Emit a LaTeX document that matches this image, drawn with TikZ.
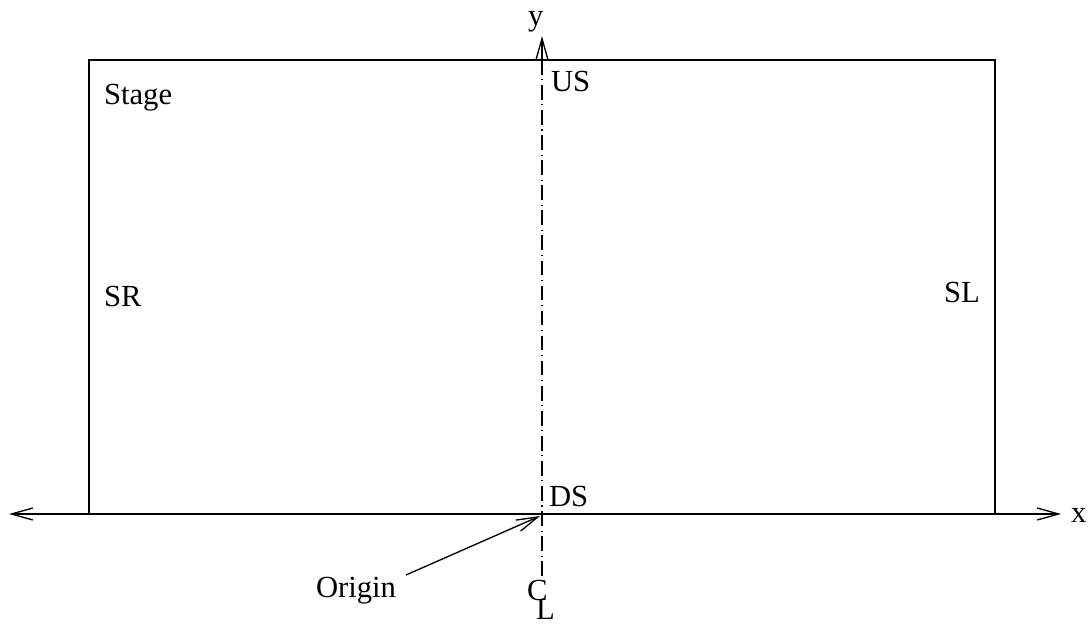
\documentclass[tikz,border=0pt]{standalone}
\usepackage{fontspec}
\setmainfont{Liberation Serif}
\usetikzlibrary{arrows.meta}
\begin{document}
\begin{tikzpicture}[x=0.75pt,y=-0.75pt,
  lbl/.style={inner sep=0pt,outer sep=0pt,anchor=base west,font=\fontsize{23}{26}\selectfont},
  ln/.style={line width=1pt},
  tip/.style={-{Straight Barb[length=16pt,width=9pt,line width=1pt]}},
  dashdot/.style={dash pattern=on 11pt off 3.5pt on 0.8pt off 3.5pt}]
\useasboundingbox (0,0) rectangle (1092,624);
% stage rectangle
\draw[ln] (89,60) rectangle (995,514);
% coordinates
\coordinate (orig) at (542,514);
\coordinate (xl) at (9,514);
\coordinate (xr) at (1061,514);
\coordinate (ytip) at (542,36);
\coordinate (cbot) at (542,576);
% axes
\draw[ln,tip] (orig) -- (xl);
\draw[ln,tip] (orig) -- (xr);
\draw[ln,dashdot] (cbot) -- (542,62);
\draw[ln,tip] (542,62) -- (ytip);
% labels
\node[lbl] (ylab) at (528,26) {y};
\node[lbl] (us) at (551,92) {US};
\node[lbl] (stage) at (104,105) {Stage};
\node[lbl] (sr) at (104,306) {SR};
\node[lbl] (sl) at (944,302) {SL};
\node[lbl] (ds) at (549,506) {DS};
\node[lbl] (xlab) at (1071,522) {x};
\node[lbl] (origin) at (316,597) {Origin};
\node[lbl] (cc) at (527,600) {C};
\node[lbl] (ll) at (536,619) {L};
\coordinate (ostart) at (406,575);
\draw[ln,tip] (ostart) -- (540,516);
\end{tikzpicture}
\end{document}
